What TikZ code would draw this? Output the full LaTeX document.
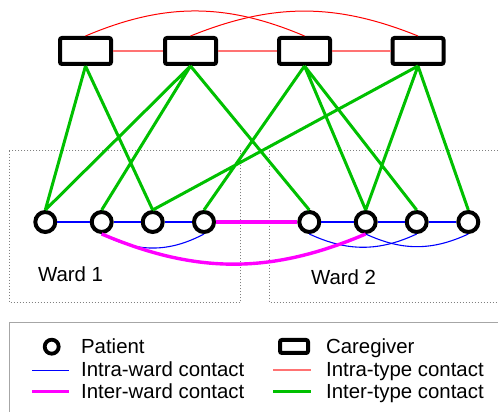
\documentclass[tikz,border=0pt]{standalone}
\usepackage{fontspec}
\setmainfont{Liberation Sans}
\definecolor{wardblue}{RGB}{0,0,255}
\definecolor{wardpink}{RGB}{255,0,255}
\definecolor{typered}{RGB}{255,0,0}
\definecolor{typegreen}{RGB}{0,192,0}

\begin{document}
\begin{tikzpicture}[
    x=0.5pt, y=0.5pt,
    font=\fontsize{10.2}{12}\selectfont,
    patient/.style={circle, draw=black, line width=2pt, fill=white, minimum size=10pt, inner sep=0pt},
    caregiver/.style={rectangle, draw=black, line width=2pt, fill=white, rounded corners=1pt,
        minimum width=25.5pt, minimum height=13pt, inner sep=0pt},
    intraward/.style={draw=wardblue, line width=0.55pt},
    interward/.style={draw=wardpink, line width=1.7pt},
    intratype/.style={draw=typered!55, line width=0.8pt},
    intratypearc/.style={draw=typered, line width=0.5pt},
    intertype/.style={draw=typegreen, line width=1.5pt},
    ward/.style={draw=gray, densely dotted, line width=0.5pt},
    label/.style={anchor=base west, inner sep=0pt}
]
   \useasboundingbox (0,0) rectangle (498,412);
   \clip (0,0) rectangle (498,412);

   % Wards
   \draw[ward] (9.3,261.3) rectangle (240.7,109.7);
   \draw[ward] (269.3,261.3) rectangle (520,109.7);
   \node[label] (w1) at (37.7,130.3) {Ward 1};
   \node[label] (w2) at (310.7,127) {Ward 2};

   % Caregivers and patients
   \foreach \cx [count=\i] in {85.5, 190.5, 304.5, 418}
      \node[caregiver] (c\i) at (\cx,361) {};
   \foreach \px [count=\i] in {45.3, 101.7, 152.7, 204, 309.3, 365.7, 416.7, 468.3}
      \node[patient] (p\i) at (\px,190) {};

   % Caregiver-caregiver contacts
   \draw[intratype] (c1.east) -- (c2.west) (c2.east) -- (c3.west) (c3.east) -- (c4.west);
   \draw[intratypearc] (c1.north) to[bend left=23] (c3.north);
   \draw[intratypearc] (c2.north) to[bend left=22] (c4.north);

   % Caregiver-patient contacts
   \draw[intertype]
   (c1.south) -- (p1.north)  (c1.south) -- (p3.north)
   (c2.south) -- (p1.north)  (c2.south) -- (p2.north)  (c2.south) -- (p5.north)
   (c3.south) -- (p4.north)  (c3.south) -- (p6.north)  (c3.south) -- (p7.north)
   (c4.south) -- (p3.north)  (c4.south) -- (p6.north)  (c4.south) -- (p8.north);

   % Patient-patient contacts
   \draw[intraward] (p1) -- (p2) (p2) -- (p3) (p3) -- (p4);
   \draw[intraward] (p5) -- (p6) (p6) -- (p7) (p7) -- (p8);
   \draw[intraward] (p2.south) to[bend right=28] (p4.south);
   \draw[intraward] (p5.south) to[bend right=25] (p7.south);
   \draw[intraward] (p6.south) to[bend right=25] (p8.south);
   \draw[interward] (p4) -- (p5);
   \draw[interward] (p2.south) to[bend right=23] (p6.south);

   % Legend
   \draw[draw=gray!70, line width=0.6pt] (9.3,89.3) rectangle (520,-20);
   \node[patient, minimum size=7pt, line width=1.9pt] (lp) at (51.7,65.3) {};
   \node[caregiver, minimum width=14pt, minimum height=6.5pt] (lc) at (294,65.5) {};
   \draw[intraward] (32,41.7) -- (69,41.7);
   \draw[interward] (32,20.3) -- (69,20.3);
   \draw[intratype] (273,41.7) -- (311,41.7);
   \draw[intertype] (273,20.3) -- (311,20.3);
   \node[label] (lpt) at (80.7,58.7) {Patient};
   \node[label] (lia) at (80.7,35.3) {Intra-ward contact};
   \node[label] (lie) at (80.7,13.7) {Inter-ward contact};
   \node[label] (lct) at (325.7,58.7) {Caregiver};
   \node[label] (lta) at (325.7,35.3) {Intra-type contact};
   \node[label] (lte) at (325.7,13.7) {Inter-type contact};
\end{tikzpicture}
\end{document}
